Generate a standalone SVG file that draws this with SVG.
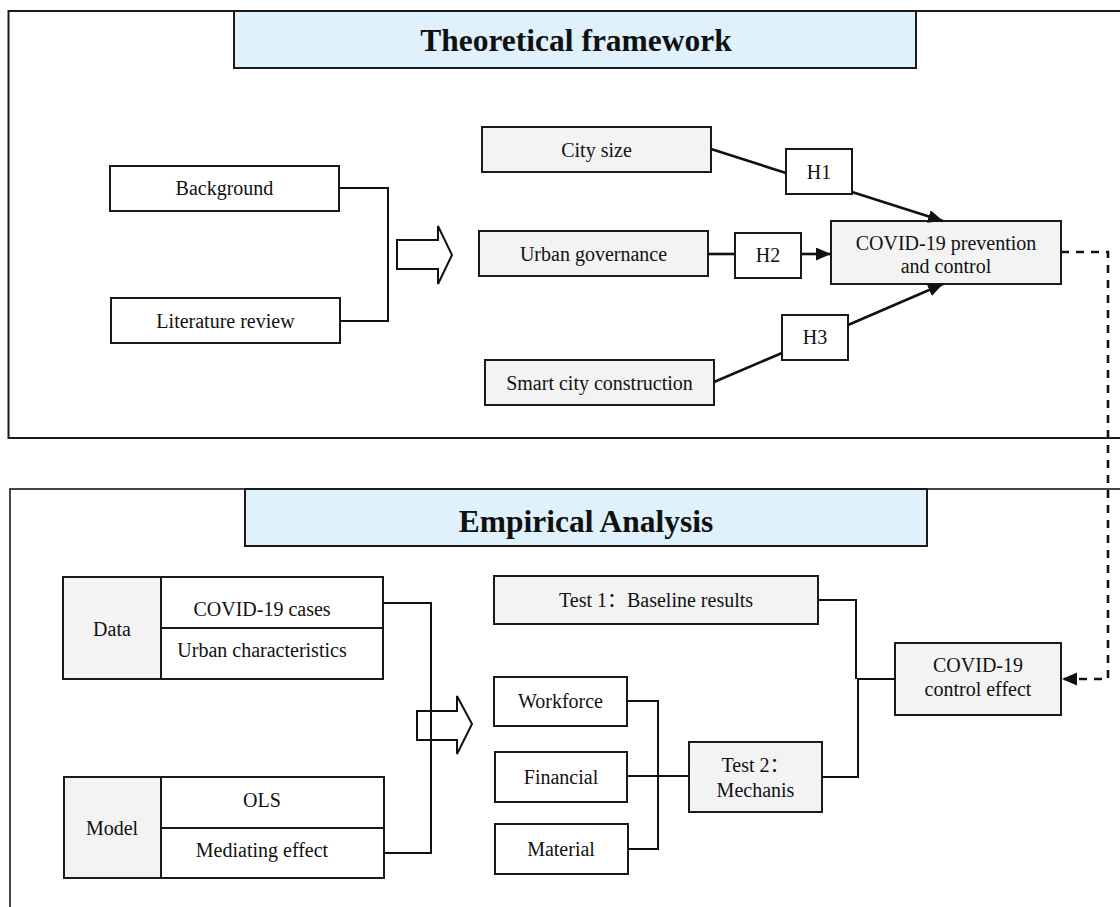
<svg xmlns="http://www.w3.org/2000/svg" width="1120" height="907" viewBox="0 0 1120 907">
<style>
text{font-family:"Liberation Serif","Noto Sans CJK SC",serif;font-size:20px;fill:#111;text-anchor:middle}
.title{font-weight:bold;font-size:31.5px}
.box{fill:#fff;stroke:#1a1a1a;stroke-width:2}
.gray{fill:#f3f3f3;stroke:#1a1a1a;stroke-width:2}
.head{fill:#dff1fb;stroke:#1a1a1a;stroke-width:2}
.frame{fill:none;stroke:#1a1a1a;stroke-width:2}
.ln{fill:none;stroke:#111;stroke-width:2}
.arw{fill:none;stroke:#111;stroke-width:2.6}
.dash{fill:none;stroke:#111;stroke-width:2.6;stroke-dasharray:8 7}
.hollow{fill:none;stroke:#111;stroke-width:2}
</style>
<defs>
<marker id="ah" markerUnits="userSpaceOnUse" markerWidth="16" markerHeight="14" refX="15" refY="6.5" orient="auto">
<path d="M0,0 L15,6.5 L0,13 Z" fill="#111"/>
</marker>
</defs>
<rect width="1120" height="907" fill="#fff"/>
<g id="frame-theory">
<rect class="frame" x="8.5" y="11" width="1125" height="427"/>
</g>
<g id="frame-empirical">
<rect class="frame" x="10" y="489" width="1125" height="430" style="stroke-width:1.6"/>
</g>
<g id="title-theory">
<rect class="head" x="234" y="11" width="682" height="57"/>
<text class="title" x="576" y="51">Theoretical framework</text>
</g>
<g id="title-empirical">
<rect class="head" x="245" y="489" width="682" height="57"/>
<text class="title" x="586" y="532">Empirical Analysis</text>
</g>
<g id="background">
<rect class="box" x="110" y="166" width="229" height="45"/>
<text x="224.5" y="195">Background</text>
</g>
<g id="literature">
<rect class="box" x="111" y="298" width="229" height="45"/>
<text x="225.5" y="327.5">Literature review</text>
</g>
<g id="arrow-theory">
<polygon class="hollow" points="397,240 438,240 438,226 452,255 438,284 438,269 397,269"/>
</g>
<g id="city-size">
<rect class="gray" x="482" y="127" width="229" height="45"/>
<text x="596.5" y="156.5">City size</text>
</g>
<g id="urban-governance">
<rect class="gray" x="479" y="231" width="229" height="45"/>
<text x="593.5" y="260.5">Urban governance</text>
</g>
<g id="smart-city">
<rect class="gray" x="485" y="360" width="229" height="45"/>
<text x="599.5" y="389.5">Smart city construction</text>
</g>
<g id="h1">
<rect class="box" x="786" y="149" width="66" height="45"/>
<text x="819" y="178.5">H1</text>
</g>
<g id="h2">
<rect class="box" x="735" y="233" width="66" height="45"/>
<text x="768" y="262">H2</text>
</g>
<g id="h3">
<rect class="box" x="782" y="315" width="66" height="45"/>
<text x="815" y="344">H3</text>
</g>
<g id="covid-prevention">
<rect class="gray" x="831" y="221" width="230" height="63"/>
<text x="946" y="250">COVID-19 prevention</text>
<text x="946" y="273">and control</text>
</g>
<g id="data">
<rect class="gray" x="63" y="577" width="98" height="102"/>
<rect class="box" x="161" y="577" width="222" height="51"/>
<rect class="box" x="161" y="628" width="222" height="51"/>
<text x="112" y="636">Data</text>
<text x="262" y="616">COVID-19 cases</text>
<text x="262" y="657">Urban characteristics</text>
</g>
<g id="model">
<rect class="gray" x="64" y="777" width="97" height="101"/>
<rect class="box" x="161" y="777" width="223" height="51"/>
<rect class="box" x="161" y="828" width="223" height="50"/>
<text x="112" y="835">Model</text>
<text x="262" y="807">OLS</text>
<text x="262" y="857">Mediating effect</text>
</g>
<g id="test1">
<rect class="gray" x="494" y="576" width="324" height="48"/>
<text x="656" y="607">Test 1：Baseline results</text>
</g>
<g id="workforce">
<rect class="box" x="494" y="677" width="133" height="49"/>
<text x="560.5" y="708">Workforce</text>
</g>
<g id="financial">
<rect class="box" x="495" y="752" width="132" height="50"/>
<text x="561" y="784">Financial</text>
</g>
<g id="material">
<rect class="box" x="495" y="824" width="133" height="50"/>
<text x="561" y="856">Material</text>
</g>
<g id="test2">
<rect class="gray" x="689" y="742" width="133" height="70"/>
<text x="755.5" y="772">Test 2：</text>
<text x="755.5" y="797">Mechanis</text>
</g>
<g id="control-effect">
<rect class="gray" x="895" y="643" width="166" height="72"/>
<text x="978" y="672">COVID-19</text>
<text x="978" y="696">control effect</text>
</g>
<g id="connectors">
<path class="ln" d="M339,188 H388 V321 H340"/>
<path class="arw" d="M711,149 L786,173"/>
<path class="arw" d="M852,192 L943,221" marker-end="url(#ah)"/>
<path class="arw" d="M708,254 H735"/>
<path class="arw" d="M801,254 H831" marker-end="url(#ah)"/>
<path class="arw" d="M714,382 L782,353"/>
<path class="arw" d="M848,325 L943,284" marker-end="url(#ah)"/>
<path class="dash" d="M1061,252 H1108 V679 H1062" marker-end="url(#ah)"/>
<path class="ln" d="M383,603 H431 V853 H384"/>
<path class="ln" d="M818,600 H856 V679"/>
<path class="ln" d="M822,777 H858 V679 H895"/>
<path class="ln" d="M627,701 H658 V849 H628"/>
<path class="ln" d="M627,776 H689"/>
</g>
<g id="arrow-empirical">
<polygon class="hollow" points="417,711 457,711 457,696 472,724 457,754 457,740 417,740"/>
</g>
</svg>
